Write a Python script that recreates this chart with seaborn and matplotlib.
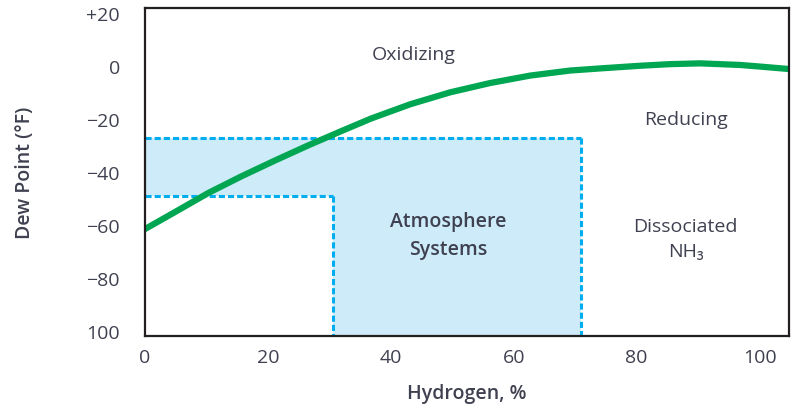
import numpy as np
import pandas as pd
import matplotlib.pyplot as plt
import seaborn as sns

# Colores
GREEN = '#00a651'
CYAN = '#00aeef'
LIGHT_BLUE = '#cdebf8'
TEXT = '#3f4150'
SPINE = '#231f20'

# dew point curve
hydrogen = [0.0, 4.8, 10.3, 15.7, 21.1, 26.5, 31.9, 36.8, 43.2, 49.7, 56.2,
            62.7, 69.2, 74.1, 80.6, 85.4, 90.3, 96.8, 100.0, 104.6]
dew_point = [-61.5, -55.2, -47.9, -41.6, -35.7, -30.0, -24.6, -19.8, -14.4, -9.9, -6.4,
             -3.6, -1.7, -0.9, 0.1, 0.7, 1.0, 0.4, -0.2, -1.1]

# atmosphere systems zone
zone_x = [0.0, 30.6, 30.6, 71.0]
zone_top = -27.1
zone_step = -49.0

xticks = [0, 20, 40, 60, 80, 100]
yticks = [20, 0, -20, -40, -60, -80, -100]
ytick_labels = ['+20', '0', '\u221220', '\u221240', '\u221260', '\u221280', '100']

XLIM = (0.25, 104.75)
YLIM = (-101.8, 21.9)

sns.set_style("white")
plt.rcParams['font.family'] = ['Open Sans', 'DejaVu Sans']

fig = plt.figure(figsize=(7.96, 4.06), dpi=100)
ax = fig.add_axes([0.182, 0.170, 0.809, 0.808])

# zona celeste
ax.fill_between([zone_x[0], zone_x[1]], zone_step, zone_top, color=LIGHT_BLUE, lw=0, zorder=1)
ax.fill_between([zone_x[2], zone_x[3]], YLIM[0], zone_top, color=LIGHT_BLUE, lw=0, zorder=1)

dash = dict(color=CYAN, lw=2.2, ls=(0, (2.0, 1.0)), zorder=2)
ax.plot([zone_x[0], zone_x[3]], [zone_top, zone_top], **dash)
ax.plot([zone_x[3], zone_x[3]], [zone_top, YLIM[0]], **dash)
ax.plot([zone_x[0], zone_x[1]], [zone_step, zone_step], **dash)
ax.plot([zone_x[1], zone_x[1]], [zone_step, YLIM[0]], **dash)

curve = pd.DataFrame({'h': hydrogen, 'dp': dew_point})
sns.lineplot(data=curve, x='h', y='dp', color=GREEN, linewidth=4.5, ax=ax, zorder=3)

ax.set_xlim(*XLIM)
ax.set_ylim(*YLIM)
ax.set_xticks(xticks)
ax.set_yticks(yticks)
ax.set_yticklabels(ytick_labels)
ax.tick_params(axis='both', length=0, labelsize=14, colors=TEXT)
ax.tick_params(axis='y', pad=18)
ax.tick_params(axis='x', pad=9)

for side in ['left', 'bottom', 'top', 'right']:
    ax.spines[side].set_color(SPINE)
    ax.spines[side].set_linewidth(1.6)
    ax.spines[side].set_zorder(5)

ax.set_xlabel('Hydrogen, %', fontsize=14, fontweight='semibold', color=TEXT, labelpad=12)
ax.set_ylabel('Dew Point (°F)', fontsize=14, fontweight='semibold', color=TEXT, labelpad=37)

ax.text(43.7, 4.4, 'Oxidizing', fontsize=14, color=TEXT, ha='center', va='center')
ax.text(88, -20, 'Reducing', fontsize=14, color=TEXT, ha='center', va='center')
ax.text(49.4, -63.7, 'Atmosphere\nSystems', fontsize=14, fontweight='semibold', color=TEXT,
        ha='center', va='center', linespacing=1.5)
ax.text(88, -65, 'Dissociated\nNH\u2083', fontsize=14, color=TEXT, ha='center', va='center',
        linespacing=1.5)

plt.savefig('out.png', dpi=100)
